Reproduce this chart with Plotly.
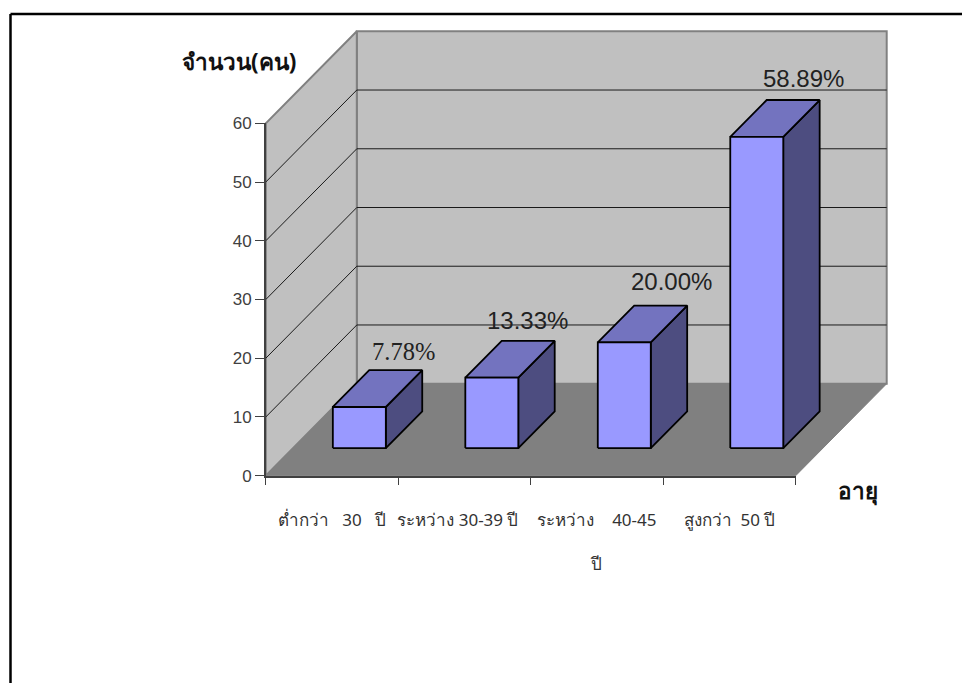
import plotly.graph_objects as go

# ---- data ----
categories = ["ต่ำกว่า   30   ปี", "ระหว่าง 30-39 ปี   ", "ระหว่าง    40-45<br><br>ปี", "สูงกว่า  50 ปี"]
counts = [7, 12, 18, 53]
pct_labels = ["7.78%", "13.33%", "20.00%", "58.89%"]
y_ticks = [0, 10, 20, 30, 40, 50, 60]

# ---- page geometry (pixels) ----
W, H = 962, 683
X0, X1 = 265.8, 795.7      # front floor edge
Y0, Y60 = 475.7, 123.3     # value axis 0 and 60
DX, DY = 91.0, 92.0        # oblique shift of the full depth
BAR_W = 0.4                # in category units
D_FRONT, D_BACK = 0.3, 0.7
X_MAX, Y_MAX = 4, 60
PX_U = (X1 - X0) / X_MAX
PX_V = (Y0 - Y60) / Y_MAX

def proj(u, v, d=0.0):
    """oblique projection: category, value and depth to scene coordinates"""
    return u + d * DX / PX_U, v + d * DY / PX_V

def poly(points, fill, line, width=1.0):
    xs, ys = zip(*[proj(*p) for p in points])
    return go.Scatter(x=list(xs) + [xs[0]], y=list(ys) + [ys[0]], mode="lines", fill="toself",
                      fillcolor=fill, line=dict(color=line, width=width),
                      hoverinfo="skip", showlegend=False, xaxis="x", yaxis="y")

def seg(points, color="#000000", width=1.0):
    xs, ys = zip(*[proj(*p) for p in points])
    return go.Scatter(x=list(xs), y=list(ys), mode="lines", line=dict(color=color, width=width),
                      hoverinfo="skip", showlegend=False, xaxis="x", yaxis="y")

fig = go.Figure()
WALL, FLOOR, EDGE = "#C0C0C0", "#808080", "#808080"
# back wall, side wall, floor
fig.add_trace(poly([(0, 0, 1), (X_MAX, 0, 1), (X_MAX, Y_MAX, 1), (0, Y_MAX, 1)], WALL, EDGE, 2))
fig.add_trace(poly([(0, 0, 0), (0, Y_MAX, 0), (0, Y_MAX, 1), (0, 0, 1)], WALL, EDGE, 2))
for t in y_ticks[1:-1]:
    fig.add_trace(seg([(0, t, 0), (0, t, 1), (X_MAX, t, 1)], "#1a1a1a", 1))
fig.add_trace(poly([(0, 0, 0), (X_MAX, 0, 0), (X_MAX, 0, 1), (0, 0, 1)], FLOOR, FLOOR, 1))

# bars
FRONT, TOP, SIDE, OUT = "#9999FF", "#7373BF", "#4D4D80", "#000000"
for i, v in enumerate(counts):
    a, b = i + 0.5 - BAR_W / 2, i + 0.5 + BAR_W / 2
    fig.add_trace(poly([(b, 0, D_FRONT), (b, 0, D_BACK), (b, v, D_BACK), (b, v, D_FRONT)], SIDE, OUT, 1.8))
    fig.add_trace(poly([(a, v, D_FRONT), (b, v, D_FRONT), (b, v, D_BACK), (a, v, D_BACK)], TOP, OUT, 1.8))
    fig.add_trace(poly([(a, 0, D_FRONT), (b, 0, D_FRONT), (b, v, D_FRONT), (a, v, D_FRONT)], FRONT, OUT, 1.8))

# dummy trace that brings the visible axes to life
fig.add_trace(go.Scatter(x=[0, X_MAX], y=[0, Y_MAX], mode="markers", marker=dict(opacity=0),
                         hoverinfo="skip", showlegend=False, xaxis="x2", yaxis="y2"))

THAI = "Noto Sans, Liberation Sans, sans-serif"
TICK = "#404040"
label_shift = [(44, 55), (36, 57), (47, 61), (47, 58)]
label_font = ["Liberation Serif", "Liberation Sans", "Liberation Sans", "Liberation Sans"]
label_size = [24.5, 24, 24, 24]
annotations = []
for i, v in enumerate(counts):
    cx, cy = proj(i + 0.5, v, D_FRONT)
    annotations.append(dict(x=cx, y=cy, xref="x", yref="y", text=pct_labels[i], showarrow=False,
                            xanchor="center", xshift=label_shift[i][0], yshift=label_shift[i][1],
                            font=dict(family=label_font[i], size=label_size[i], color="#222222")))
annotations += [
    dict(x=239 / W, y=1 - 61 / H, xref="paper", yref="paper", text="<b>จำนวน(คน)</b>", showarrow=False,
         xanchor="center", yanchor="middle", font=dict(family=THAI, size=22.5, color="#111111")),
    dict(x=858 / W, y=1 - 490 / H, xref="paper", yref="paper", text="<b>อายุ</b>", showarrow=False,
         xanchor="center", yanchor="middle", font=dict(family=THAI, size=22.5, color="#111111")),
]

border = dict(color="#000000", width=2.5)
shapes = [
    dict(type="line", xref="paper", yref="paper", x0=10.5 / W, x1=1, y0=1 - 14 / H, y1=1 - 14 / H, line=border),
    dict(type="line", xref="paper", yref="paper", x0=10.5 / W, x1=10.5 / W, y0=1 - 14 / H, y1=0, line=border),
]

fig.update_layout(
    width=W, height=H, autosize=False, margin=dict(l=0, r=0, t=0, b=0, autoexpand=False),
    paper_bgcolor="white", plot_bgcolor="rgba(0,0,0,0)", showlegend=False,
    annotations=annotations, shapes=shapes,
    xaxis=dict(domain=[0, 1], range=[-X0 / PX_U, (W - X0) / PX_U], visible=False, fixedrange=True),
    yaxis=dict(domain=[0, 1], range=[(Y0 - H) / PX_V, Y0 / PX_V], visible=False, fixedrange=True),
    xaxis2=dict(domain=[X0 / W, X1 / W], range=[0, X_MAX], anchor="y2", showgrid=False, zeroline=False,
                showline=True, linecolor=TICK, linewidth=1.5,
                tickmode="array", tickvals=[i + 0.5 for i in range(len(categories))], ticktext=categories,
                ticks="", ticklabelstandoff=28, tickangle=0,
                tickfont=dict(family=THAI, size=17, color="#333333"),
                minor=dict(ticks="outside", ticklen=8, tickcolor=TICK, tickwidth=1, tick0=0, dtick=1, showgrid=False),
                fixedrange=True),
    yaxis2=dict(domain=[1 - Y0 / H, 1 - Y60 / H], range=[0, Y_MAX], anchor="x2", showgrid=False, zeroline=False,
                showline=True, linecolor=TICK, linewidth=1.5,
                tickmode="array", tickvals=y_ticks, ticks="outside", ticklen=9, tickcolor=TICK, tickwidth=1,
                tickfont=dict(family="Liberation Sans", size=17, color="#404040"), fixedrange=True),
)
fig.write_html("out.html", config=dict(displayModeBar=False),
               post_script="document.body.style.margin='0';document.documentElement.style.overflow='hidden';")
